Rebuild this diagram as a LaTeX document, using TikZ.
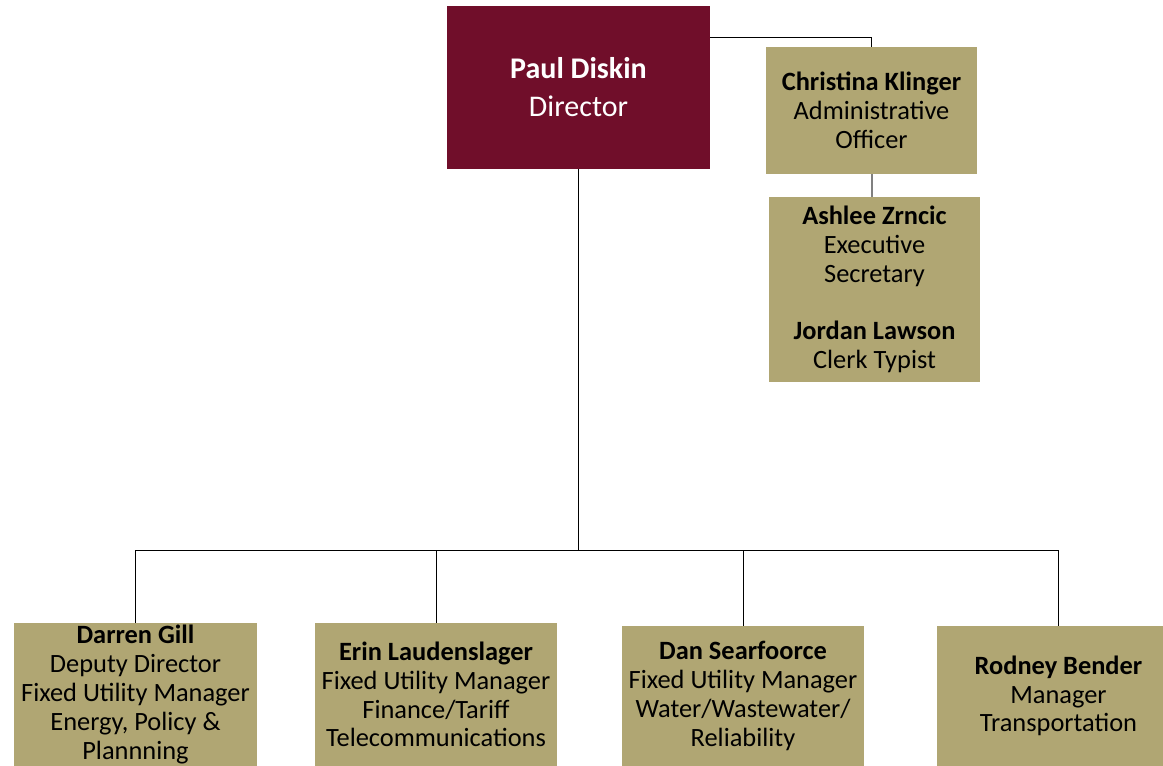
\documentclass[tikz,border=0pt]{standalone}
\usepackage{fontspec}
\setmainfont{Carlito}
\usetikzlibrary{positioning, calc}
\definecolor{dirred}{RGB}{112, 14, 42}
\definecolor{stafftan}{RGB}{176, 166, 115}
\definecolor{linkgray}{RGB}{128, 128, 128}

\begin{document}
\begin{tikzpicture}[x=0.75pt, y=-0.75pt,
    tanbox/.style={fill=stafftan, inner sep=0pt, align=center,
      font=\fontsize{19.8pt}{21.6pt}\selectfont},
    link/.style={black, line width=0.75pt}]
  % page
  \clip (0,0) rectangle (1163,766);
  \fill[white] (0,0) rectangle (1163,766);

  % director
  \node[fill=dirred, text=white, inner sep=0pt, align=center,
        minimum width=197.25pt, minimum height=122.25pt,
        font=\fontsize{22.5pt}{28.5pt}\selectfont] (dir) at (578.5,87.5)
    {\textbf{Paul Diskin}\\Director};

  % staff on the right
  \node[tanbox, minimum width=158.25pt, minimum height=95.25pt] (chris) at (871.5,110.5)
    {\textbf{Christina Klinger}\\Administrative\\Officer};
  \node[tanbox, minimum width=158.25pt, minimum height=138.75pt] (ashlee) at (874.5,289.5)
    {\textbf{Ashlee Zrncic}\\Executive\\Secretary\\[21.6pt]\textbf{Jordan Lawson}\\Clerk Typist};

  % managers
  \node[tanbox, minimum width=182.25pt, minimum height=107.25pt] (darren) at (135.5,694.5)
    {\textbf{Darren Gill}\\Deputy Director\\Fixed Utility Manager\\Energy, Policy \&\\Plannning};
  \node[tanbox, minimum width=181.5pt, minimum height=107.25pt] (erin) at (436,694.5)
    {\textbf{Erin Laudenslager}\\Fixed Utility Manager\\Finance/Tariff\\Telecommunications};
  \node[tanbox, minimum width=181.5pt, minimum height=105pt] (dan) at (743,696)
    {\textbf{Dan Searfoorce}\\Fixed Utility Manager\\Water/Wastewater/\\Reliability};
  \node[tanbox, minimum width=182.25pt, minimum height=105pt] (rodney) at (1058.5,696)
    {\textbf{Rodney Bender}\\Manager\\Transportation};

  % connectors
  \coordinate (bus) at (576,550);
  \draw[link] ($(dir.north east)+(0,32)$) -| (chris.north);
  \draw[linkgray, line width=1.5pt] (chris.south) -- (chris.south |- ashlee.north);
  \draw[link] (dir.south) -- (dir.south |- bus);
  \draw[link] (darren.north) -- (darren.north |- bus) -| (rodney.north);
  \draw[link] (erin.north) -- (erin.north |- bus);
  \draw[link] (dan.north) -- (dan.north |- bus);
\end{tikzpicture}
\end{document}
